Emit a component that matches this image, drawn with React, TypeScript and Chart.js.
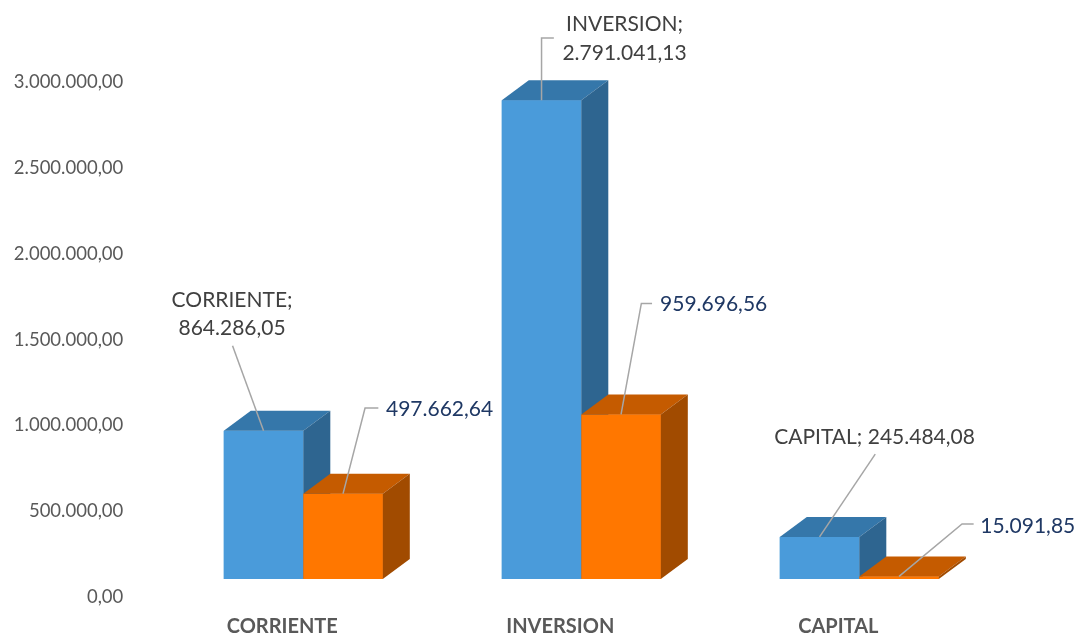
import React, { useEffect, useRef } from 'react';
import { Chart, registerables } from 'chart.js';

Chart.register(...registerables);

// ---- data ----
const categories = ['CORRIENTE', 'INVERSION', 'CAPITAL'];
const seriesBlue = [864286.05, 2791041.13, 245484.08];
const seriesOrange = [497662.64, 959696.56, 15091.85];
const yTickValues = [0, 500000, 1000000, 1500000, 2000000, 2500000, 3000000];

// ---- styles / layout (not data) ----
const FRONT = ['#4A9BDA', '#FF7700'];
const TOP = ['#3577AA', '#C55B00'];
const SIDE = ['#2E6590', '#A14B00'];
const DX = 27;
const DY = 20;
const LABEL_COLORS = ['#404040', '#1F3864'];

// label offsets relative to the top-centre of each bar's front face
const labelLayout = [
  [
    { dx: -31.5, dys: [-131, -103], leader: [[-31, -85]] },
    { dx: 83, dys: [-76, -47], leader: [[12.3, -62.4], [0, -62.4]] },
    { dx: 55, dys: [-99.4], leader: [[55.7, -82.7]] },
  ],
  [
    { dx: 96.5, dys: [-84], leader: [[35.3, -85.7], [22, -85.7]] },
    { dx: 92.6, dys: [-110], leader: [[31, -111], [20.3, -111]] },
    { dx: 128.7, dys: [-50], leader: [[74.6, -52.5], [63, -52.5]] },
  ],
];

function fmt(v: number): string {
  const fixed = Math.abs(v).toFixed(2);
  const [intPart, dec] = fixed.split('.');
  const s = intPart.replace(/\B(?=(\d{3})+(?!\d))/g, '.');
  return (v < 0 ? '-' : '') + s + ',' + dec;
}

const bars3d = {
  id: 'bars3d',
  afterDatasetsDraw(chart: any) {
    const ctx = chart.ctx;
    ctx.save();
    chart.data.datasets.forEach((_ds: any, i: number) => {
      const meta = chart.getDatasetMeta(i);
      meta.data.forEach((el: any) => {
        const { x, y, base, width } = el.getProps(['x', 'y', 'base', 'width'], true);
        const l = x - width / 2;
        const r = x + width / 2;
        // front
        ctx.fillStyle = FRONT[i];
        ctx.fillRect(l, y, width, base - y);
        // top
        ctx.fillStyle = TOP[i];
        ctx.beginPath();
        ctx.moveTo(l, y);
        ctx.lineTo(l + DX, y - DY);
        ctx.lineTo(r + DX, y - DY);
        ctx.lineTo(r, y);
        ctx.closePath();
        ctx.fill();
        // side
        ctx.fillStyle = SIDE[i];
        ctx.beginPath();
        ctx.moveTo(r, y);
        ctx.lineTo(r + DX, y - DY);
        ctx.lineTo(r + DX, base - DY);
        ctx.lineTo(r, base);
        ctx.closePath();
        ctx.fill();
      });
    });
    ctx.restore();
  },
  afterDraw(chart: any) {
    const ctx = chart.ctx;
    ctx.save();
    chart.data.datasets.forEach((ds: any, di: number) => {
      const meta = chart.getDatasetMeta(di);
      meta.data.forEach((el: any, ci: number) => {
        const { x, y } = el.getProps(['x', 'y'], true);
        const lay = labelLayout[di][ci];
        // leader
        ctx.strokeStyle = '#A6A6A6';
        ctx.lineWidth = 1.5;
        ctx.beginPath();
        lay.leader.forEach((p: number[], k: number) => {
          if (k === 0) ctx.moveTo(x + p[0], y + p[1]);
          else ctx.lineTo(x + p[0], y + p[1]);
        });
        ctx.lineTo(x, y);
        ctx.stroke();
        // text
        const value = fmt(ds.data[ci]);
        let lines: string[];
        if (di === 0) {
          lines = lay.dys.length === 2 ? [categories[ci] + ';', value] : [categories[ci] + '; ' + value];
        } else {
          lines = [value];
        }
        ctx.fillStyle = LABEL_COLORS[di];
        ctx.font = '21px Lato';
        ctx.textAlign = 'center';
        ctx.textBaseline = 'middle';
        lines.forEach((t, k) => ctx.fillText(t, x + lay.dx, y + lay.dys[k]));
      });
    });
    ctx.restore();
  },
};

export default function App() {
  const ref = useRef<HTMLCanvasElement | null>(null);
  useEffect(() => {
    if (!ref.current) return;
    const chart = new Chart(ref.current, {
      type: 'bar',
      data: {
        labels: categories,
        datasets: [
          { label: 'A', data: seriesBlue, backgroundColor: FRONT[0], borderWidth: 0 },
          { label: 'B', data: seriesOrange, backgroundColor: FRONT[1], borderWidth: 0 },
        ],
      },
      options: {
        responsive: false,
        animation: false,
        layout: { padding: { top: 64.5, right: 80.7, left: 0, bottom: 0 } },
        datasets: { bar: { categoryPercentage: 0.572, barPercentage: 1 } },
        plugins: { legend: { display: false }, tooltip: { enabled: false } },
        scales: {
          x: {
            grid: { display: false, drawTicks: false },
            border: { display: false },
            ticks: {
              font: { family: 'Lato', size: 20, weight: 'bold' },
              color: '#595959',
              labelOffset: -21,
              padding: 36,
              maxRotation: 0,
            },
            afterFit: (s: any) => { s.height = 56; },
          },
          y: {
            min: 0,
            max: 3000000,
            grid: { display: false, drawTicks: false },
            border: { display: false },
            afterBuildTicks: (s: any) => { s.ticks = yTickValues.map((v) => ({ value: v })); },
            ticks: {
              font: { family: 'Lato', size: 18.5 },
              color: '#595959',
              labelOffset: 18,
              padding: 41,
              callback: (v: any) => fmt(Number(v)),
            },
            afterFit: (s: any) => { s.width = 164.3; },
          },
        },
      },
      plugins: [bars3d],
    });
    return () => chart.destroy();
  }, []);
  return (
    <div style={{ position: 'fixed', left: 0, top: 0, width: 1079, height: 635, background: '#fff' }}>
      <canvas ref={ref} width={1079} height={635} />
    </div>
  );
}
